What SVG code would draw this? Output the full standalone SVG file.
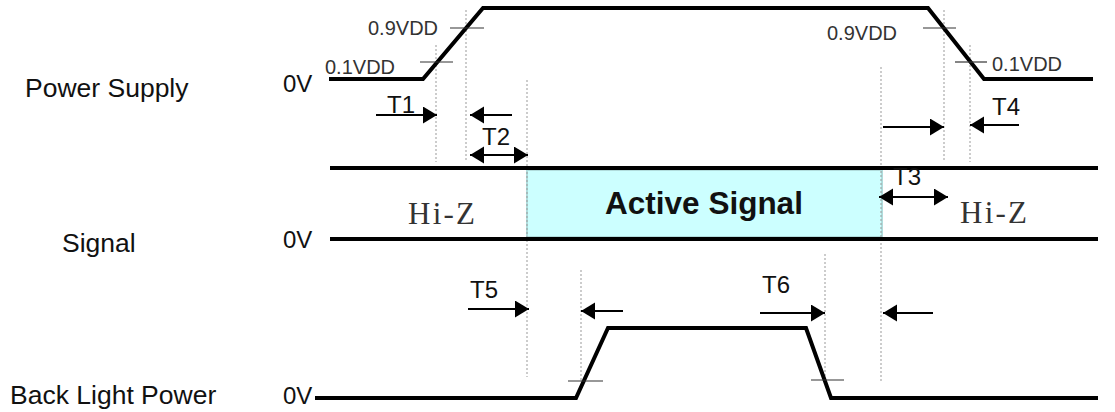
<svg xmlns="http://www.w3.org/2000/svg" width="1115" height="412" viewBox="0 0 1115 412">
<style>
.lbl{font-family:"Liberation Sans",Arial,sans-serif;font-size:26.5px;fill:#111}
.zv{font-family:"Liberation Sans",Arial,sans-serif;font-size:24px;fill:#111}
.t{font-family:"Liberation Sans",Arial,sans-serif;font-size:24px;fill:#111}
.vdd{font-family:"Liberation Sans",Arial,sans-serif;font-size:20px;fill:#333}
.hiz{font-family:"Liberation Serif","Times New Roman",serif;font-size:31px;fill:#333}
.act{font-family:"Liberation Sans",Arial,sans-serif;font-size:31.5px;font-weight:bold;fill:#111}
.wave{fill:none;stroke:#000;stroke-width:4;stroke-linejoin:miter}
.tick{stroke:#333;stroke-width:1.2}
.dot{stroke:#999;stroke-width:1;stroke-dasharray:2,2}
.arr{stroke:#000;stroke-width:2;fill:none}
</style>
<defs>
<marker id="ah" markerUnits="userSpaceOnUse" markerWidth="16" markerHeight="18" refX="14" refY="8.5" orient="auto-start-reverse" viewBox="0 0 16 18">
<path d="M0,0 L14,8.5 L0,17 Z" fill="#000"/>
</marker>
</defs>
<rect width="1115" height="412" fill="#fff"/>
<g id="labels">
<text class="lbl" x="25" y="97">Power Supply</text>
<text class="lbl" x="62" y="252">Signal</text>
<text class="lbl" x="10" y="404">Back Light Power</text>
<text class="zv" x="283" y="92">0V</text>
<text class="zv" x="283" y="248">0V</text>
<text class="zv" x="283" y="404">0V</text>
</g>
<g id="guides">
<line class="dot" x1="436" y1="45" x2="436" y2="162"/>
<line class="dot" x1="466" y1="10" x2="466" y2="162"/>
<line class="dot" x1="944" y1="10" x2="944" y2="162"/>
<line class="dot" x1="970" y1="45" x2="970" y2="162"/>
<line class="dot" x1="581" y1="270" x2="581" y2="380"/>
<line class="dot" x1="825" y1="254" x2="825" y2="380"/>
</g>
<g id="active-signal">
<rect x="527" y="170" width="355" height="67" fill="#ccffff" stroke="#b0dcdc" stroke-width="2"/>
<text class="act" x="704" y="214" text-anchor="middle">Active Signal</text>
</g>
<g id="guides2">
<line class="dot" x1="527" y1="80" x2="527" y2="377"/>
<line class="dot" x1="881" y1="67" x2="881" y2="383"/>
</g>
<g id="power-supply">
<polyline class="wave" points="329,79 423,79 483,8 928,8 984,79 1093,79"/>
<line class="tick" x1="450" y1="28" x2="484" y2="28"/>
<line class="tick" x1="420" y1="62" x2="453" y2="62"/>
<line class="tick" x1="923" y1="28" x2="956" y2="28"/>
<line class="tick" x1="955" y1="62" x2="987" y2="62"/>
<text class="vdd" x="368" y="35">0.9VDD</text>
<text class="vdd" x="325" y="74">0.1VDD</text>
<text class="vdd" x="827" y="40">0.9VDD</text>
<text class="vdd" x="992" y="71">0.1VDD</text>
</g>
<g id="signal">
<line class="wave" x1="330" y1="168" x2="1098" y2="168"/>
<line class="wave" x1="330" y1="239" x2="1098" y2="239"/>
<text class="hiz" x="408" y="224" textLength="67">Hi-Z</text>
<text class="hiz" x="960" y="223" textLength="67">Hi-Z</text>
</g>
<g id="back-light">
<polyline class="wave" points="315,398 576,398 608,328 806,328 831,398 1098,398"/>
<line class="tick" x1="568" y1="381" x2="603" y2="381"/>
<line class="tick" x1="811" y1="380" x2="844" y2="380"/>
</g>
<g id="connectors">
<line class="arr" x1="376" y1="115" x2="437" y2="115" marker-end="url(#ah)"/>
<line class="arr" x1="512" y1="115" x2="470" y2="115" marker-end="url(#ah)"/>
<line class="arr" x1="470" y1="155" x2="528" y2="155" marker-start="url(#ah)" marker-end="url(#ah)"/>
<line class="arr" x1="883" y1="127" x2="944" y2="127" marker-end="url(#ah)"/>
<line class="arr" x1="1019" y1="125" x2="970" y2="125" marker-end="url(#ah)"/>
<line class="arr" x1="879" y1="197" x2="948" y2="197" marker-start="url(#ah)" marker-end="url(#ah)"/>
<line class="arr" x1="468" y1="309" x2="529" y2="309" marker-end="url(#ah)"/>
<line class="arr" x1="623" y1="311" x2="581" y2="311" marker-end="url(#ah)"/>
<line class="arr" x1="760" y1="313" x2="825" y2="313" marker-end="url(#ah)"/>
<line class="arr" x1="933" y1="313" x2="883" y2="313" marker-end="url(#ah)"/>
</g>
<g id="time-labels">
<text class="t" x="387" y="113">T1</text>
<text class="t" x="482" y="145">T2</text>
<text class="t" x="893" y="185">T3</text>
<text class="t" x="992" y="115">T4</text>
<text class="t" x="470" y="298">T5</text>
<text class="t" x="762" y="293">T6</text>
</g>
</svg>
